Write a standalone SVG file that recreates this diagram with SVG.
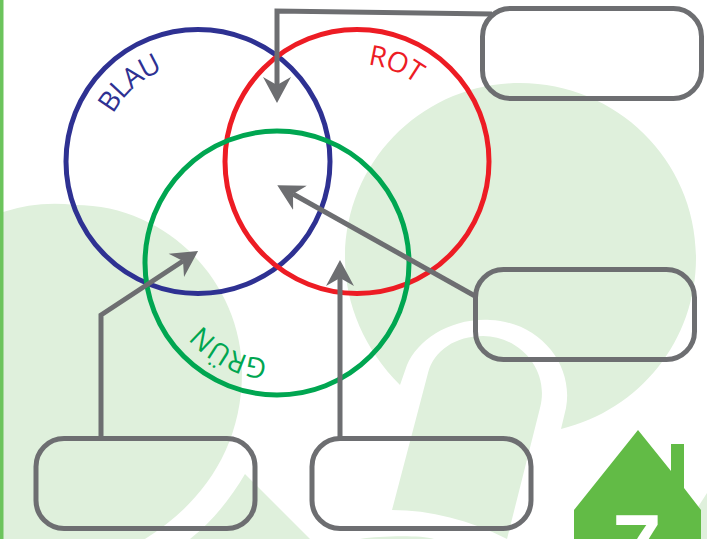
<svg xmlns="http://www.w3.org/2000/svg" xmlns:xlink="http://www.w3.org/1999/xlink" width="707" height="539" viewBox="0 0 707 539">
<style>
.bg{fill:#dff0dc}
.ring{fill:none;stroke-width:5}
.box{fill:none;stroke:#6d6e71;stroke-width:5}
.conn{fill:none;stroke:#6d6e71;stroke-width:5}
.lbl{font-family:"Open Sans","Noto Sans",sans-serif;font-size:28px;text-anchor:middle;letter-spacing:-1px}
</style>
<defs>
<marker id="arrow" markerUnits="userSpaceOnUse" markerWidth="30" markerHeight="32" refX="8" refY="15" orient="auto" viewBox="0 0 30 30">
<path d="M0,1 L26,15 L0,29 L8,15Z" fill="#6d6e71"/>
</marker>
<path id="pb" d="M198,258 A97,97 0 1 1 198,64 A97,97 0 1 1 198,258"/>
<path id="pr" d="M357,258 A97,97 0 1 1 357,64 A97,97 0 1 1 357,258"/>
<path id="pg" d="M277,166 A97,97 0 1 1 277,360 A97,97 0 1 1 277,166"/>
</defs>
<rect width="707" height="539" fill="#fff"/>
<g id="background">
<path class="bg" d="M3,212 A167,167 0 0 1 75,205 C170,205 242,285 242,372 C242,450 200,505 145,539 L3,539Z"/>
<path class="bg" d="M400,385 C365,350 345,305 345,258 C345,161 423,83 520,83 C617,83 696,161 696,258 C696,340 640,410 561,429 L566,408 C574,365 540,322 490,320 C450,318 418,340 407,365Z"/>
<path class="bg" d="M428,373 C434,350 456,336 483,336 C520,336 550,370 540,408 L507,539 C470,520 430,510 392,510Z"/>
<path class="bg" d="M245,474 L310,539 L190,539 C212,522 231,498 245,474Z"/>
<path class="bg" d="M360,539 C380,536 420,535 434,539Z"/>
<path class="bg" d="M698,507 L707,493 L707,539 L698,539Z"/>
<rect x="0" y="0" width="3.500" height="539" fill="#6cc45c"/>
</g>
<g id="logo">
<path d="M638,430 L671,471 L671,444 L684,444 L684,488 L701,510 L701,539 L574,539 L574,510Z" fill="#62bb46"/>
<text x="637" y="575" font-family="'Liberation Sans',sans-serif" font-weight="700" font-size="88" text-anchor="middle" fill="#fff">7</text>
</g>
<g id="blau"><circle class="ring" cx="198" cy="161.500" r="132" stroke="#2e3192"/>
<text class="lbl" fill="#2e3192"><textPath xlink:href="#pb" href="#pb" startOffset="38.500%">BLAU</textPath></text></g>
<g id="rot"><circle class="ring" cx="357" cy="161.500" r="132" stroke="#ed1c24"/>
<text class="lbl" fill="#ed1c24"><textPath xlink:href="#pr" href="#pr" startOffset="56%">ROT</textPath></text></g>
<g id="gruen"><circle class="ring" cx="277" cy="263" r="132" stroke="#00a651"/>
<text class="lbl" fill="#00a651"><textPath xlink:href="#pg" href="#pg" startOffset="57.700%">GRÜN</textPath></text></g>
<g id="connectors">
<path class="conn" d="M492,14 L277,11 L277,85" marker-end="url(#arrow)"/>
<path class="conn" d="M475,296 L293,194" marker-end="url(#arrow)"/>
<path class="conn" d="M340,438 L340,278" marker-end="url(#arrow)"/>
<path class="conn" d="M101,438 L101,315 L183,261" marker-end="url(#arrow)"/>
</g>
<g id="box-top"><rect class="box" x="482.500" y="8.500" width="219" height="90" rx="28"/></g>
<g id="box-right"><rect class="box" x="475.500" y="269.500" width="219" height="90" rx="28"/></g>
<g id="box-left"><rect class="box" x="36" y="438.500" width="219" height="90" rx="28"/></g>
<g id="box-middle"><rect class="box" x="312" y="438.500" width="219" height="90" rx="28"/></g>
</svg>
